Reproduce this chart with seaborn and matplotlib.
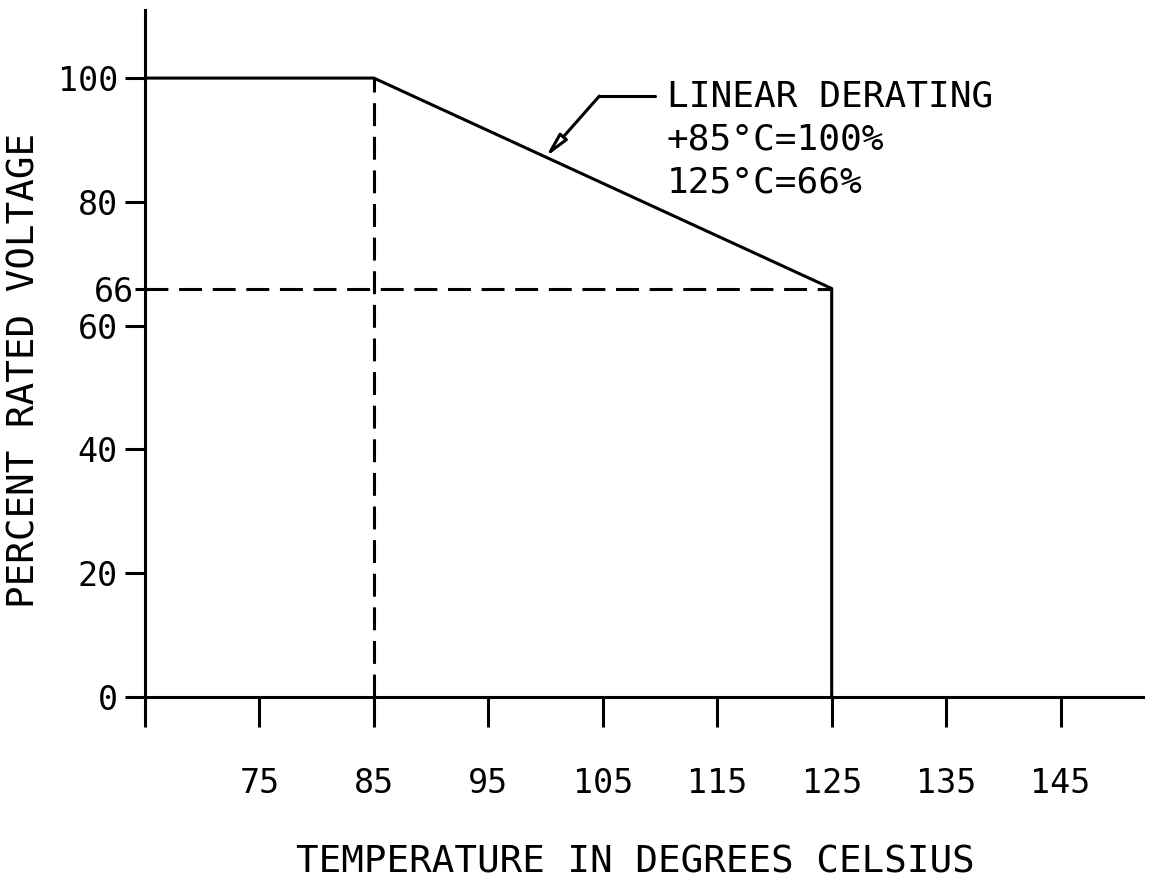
"""
Voltage derating curve: percent rated voltage vs. temperature.
"""

import matplotlib
matplotlib.use('Agg')
import matplotlib.pyplot as plt
import seaborn as sns
import pandas as pd
import numpy as np

# Data
temp_c = [65, 85, 125, 125]
pct_voltage = [100, 100, 66, 0]
knee_temp = 85
max_temp = 125
max_temp_pct = 66
callout_temp = 100

x_ticks = [65, 75, 85, 95, 105, 115, 125, 135, 145]
x_tick_labels = ['', '75', '85', '95', '105', '115', '125', '135', '145']
y_ticks = [0, 20, 40, 60, 80, 100]
y_tick_labels = ['0', '20', '40', '60', '80', '100']

callout_lines = ['LINEAR DERATING', '+85\u00b0C=100%', '125\u00b0C=66%']

# Style
sns.set_style("ticks")
plt.rcParams['font.family'] = ['DejaVu Sans Mono']
plt.rcParams['text.color'] = 'black'
plt.rcParams['axes.labelcolor'] = 'black'
LW = 2.2
INK = 'black'

df = pd.DataFrame({'temp': temp_c, 'pct': pct_voltage})

fig = plt.figure(figsize=(11.56, 8.92), dpi=100)
ax = fig.add_axes([145 / 1156, 1 - 697 / 892, (1143 - 145) / 1156, (697 - 10) / 892])

# Main derating curve
sns.lineplot(data=df, x='temp', y='pct', sort=False, estimator=None,
             color=INK, linewidth=LW, ax=ax)

# Dashed guides
dash = (7.5, 3.5)
ax.plot([knee_temp, knee_temp], [0, 100], color=INK, linewidth=LW, dashes=dash)
ax.plot([x_ticks[0], max_temp], [max_temp_pct, max_temp_pct], color=INK,
        linewidth=LW, dashes=dash)

ax.set_xlim(65, 152.2)
ax.set_ylim(0, 111)

# Callout with leader
y_on_line = np.interp(callout_temp, temp_c[:3], pct_voltage[:3])
elbow = (104.7, 97.1)
ax.plot([elbow[0], 109.6], [elbow[1], elbow[1]], color=INK, linewidth=LW)
ax.annotate('', xy=(callout_temp, y_on_line), xytext=elbow,
            arrowprops=dict(arrowstyle='-|>,head_length=1.4,head_width=0.3',
                            color=INK, lw=LW, fc='white', shrinkA=0, shrinkB=0))
ax.text(110.6, elbow[1] + 2.6, '\n'.join(callout_lines), fontsize=26,
        va='top', ha='left', linespacing=1.32, color=INK)

# Axes styling
sns.despine(ax=ax)
for side in ['left', 'bottom']:
    ax.spines[side].set_linewidth(LW)
    ax.spines[side].set_color(INK)

ax.set_xticks(x_ticks, labels=x_tick_labels)
ax.set_yticks(y_ticks, labels=y_tick_labels)
ax.set_yticks([max_temp_pct], labels=[str(max_temp_pct)], minor=True)
ax.tick_params(axis='x', direction='out', length=21.5, width=LW, pad=29,
               labelsize=24, colors=INK)
ax.tick_params(axis='y', which='major', direction='out', length=14.5, width=LW,
               pad=5, labelsize=24, colors=INK)
ax.tick_params(axis='y', which='minor', direction='inout', length=14, width=LW,
               pad=1, labelsize=24, colors=INK)

ax.set_xlabel('TEMPERATURE IN DEGREES CELSIUS', fontsize=27, color=INK)
ax.set_ylabel('PERCENT RATED VOLTAGE', fontsize=27, color=INK)
ax.xaxis.set_label_coords(0.491, -0.215)
ax.yaxis.set_label_coords(-0.103, 0.475)
ax.grid(False)

plt.savefig('out.png', dpi=100)
plt.close()
